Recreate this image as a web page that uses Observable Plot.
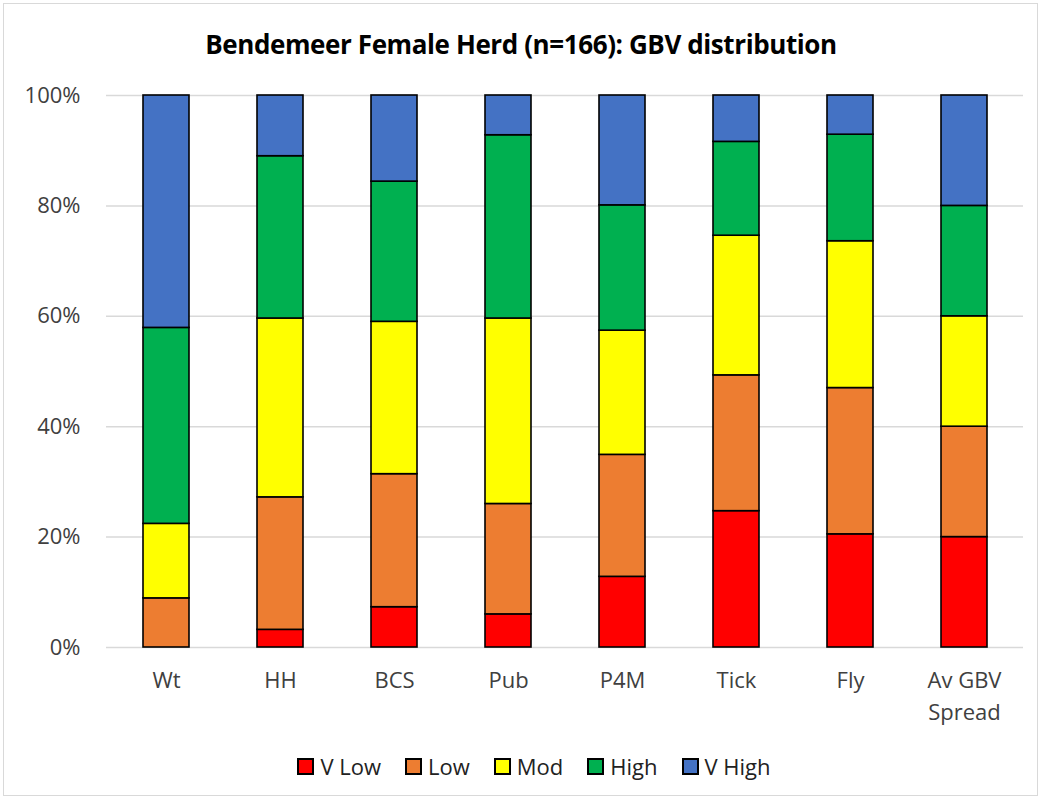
<!DOCTYPE html>
<html>
<head>
<meta charset="utf-8">
<script src="https://cdn.jsdelivr.net/npm/d3@7"></script>
<script src="https://cdn.jsdelivr.net/npm/@observablehq/plot@0.6"></script>
<style>
  html, body { margin: 0; padding: 0; background: #fff; }
  #frame { position: relative; width: 1042px; height: 800px; font-family: "Open Sans", "Noto Sans", sans-serif; }
  #border { position: absolute; left: 3px; top: 3px; width: 1035px; height: 793px; border: 1.5px solid #d9d9d9; box-sizing: border-box; }
  #title { position: absolute; left: 0; top: 26px; width: 1042px; text-align: center; font-size: 26px; font-weight: bold; color: #000; letter-spacing: -0.4px; }
  #chart { position: absolute; left: 0; top: 70px; }
  #legend { position: absolute; left: 13px; top: 751px; width: 1042px; display: flex; justify-content: center; gap: 24px; font-size: 22px; color: #222; }
  .item { display: flex; align-items: center; gap: 6px; }
  .sw { width: 13px; height: 13px; border: 2px solid #000; }
</style>
</head>
<body>
<div id="frame">
  <div id="border"></div>
  <div id="title">Bendemeer Female Herd (n=166): GBV distribution</div>
  <div id="chart"></div>
  <div id="legend"></div>
</div>
<script>
const traits = ["Wt", "HH", "BCS", "Pub", "P4M", "Tick", "Fly", "Av GBV\nSpread"];
const levels = ["V Low", "Low", "Mod", "High", "V High"];
const colors = ["#ff0000", "#ed7d31", "#ffff00", "#00b050", "#4472c4"];
// percentages per trait, in level order
const vLow  = [0,    3.2,  7.3,  6.0,  12.8, 24.7, 20.5, 20];
const low   = [8.9,  24.0, 24.1, 20.0, 22.1, 24.6, 26.5, 20];
const mod   = [13.5, 32.4, 27.6, 33.6, 22.5, 25.3, 26.6, 20];
const high  = [35.5, 29.4, 25.4, 33.2, 22.7, 17.0, 19.3, 20];
const vHigh = [42.1, 11.0, 15.6, 7.2,  19.9, 8.4,  7.1,  20];
const yTicks = [0, 20, 40, 60, 80, 100];

const series = [vLow, low, mod, high, vHigh];
const rows = [];
traits.forEach((t, i) => {
  levels.forEach((l, j) => rows.push({trait: t, level: l, value: series[j][i]}));
});

const chart = Plot.plot({
  width: 1042,
  height: 660,
  marginTop: 25,
  marginBottom: 83,
  marginLeft: 106,
  marginRight: 19,
  style: { fontFamily: "'Open Sans', 'Noto Sans', sans-serif", fontSize: "22px", color: "#404040", background: "transparent" },
  x: { domain: traits, paddingInner: 0.6, paddingOuter: 0.3, label: null },
  y: { domain: [0, 100], label: null },
  color: { domain: levels, range: colors },
  marks: [
    Plot.gridY(yTicks, { stroke: "#d9d9d9", strokeOpacity: 1, strokeWidth: 1.5 }),
    Plot.barY(rows, Plot.stackY({ order: levels }, {
      x: "trait", y: "value", fill: "level", stroke: "#000", strokeWidth: 1.6
    })),
    Plot.axisX({ tickSize: 0, tickPadding: 18, lineHeight: 1.45, fontSize: 22, fill: "#404040" }),
    Plot.axisY({ ticks: yTicks, tickFormat: d => d + "%", tickSize: 0, tickPadding: 26, fontSize: 22, fill: "#404040" })
  ]
});
document.getElementById("chart").appendChild(chart);

const legend = document.getElementById("legend");
levels.forEach((l, i) => {
  const it = document.createElement("div");
  it.className = "item";
  const sw = document.createElement("span");
  sw.className = "sw";
  sw.style.background = colors[i];
  const tx = document.createElement("span");
  tx.textContent = l;
  it.appendChild(sw); it.appendChild(tx);
  legend.appendChild(it);
});
</script>
</body>
</html>
